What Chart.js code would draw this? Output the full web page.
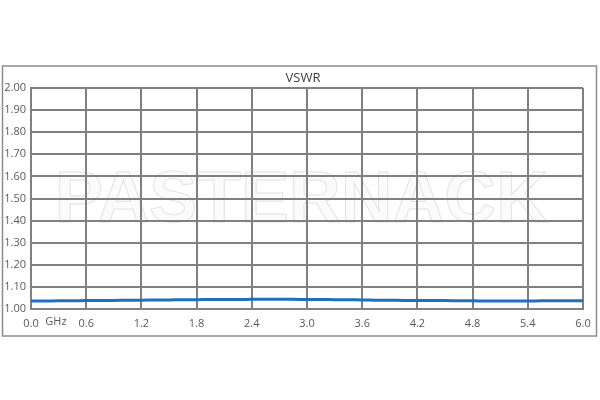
<!DOCTYPE html>
<html>
<head>
<meta charset="utf-8">
<script src="https://cdn.jsdelivr.net/npm/chart.js@4/dist/chart.umd.min.js"></script>
<style>
  html, body { margin: 0; padding: 0; background: #fff; }
  #wrap { width: 600px; height: 400px; }
</style>
</head>
<body>
<div id="wrap"><canvas id="grafico" width="600" height="400"></canvas></div>
<script>
const freqGHz = [0, 0.15, 0.3, 0.45, 0.6, 0.75, 0.9, 1.05, 1.2, 1.35, 1.5, 1.65, 1.8, 1.95, 2.1,
    2.25, 2.4, 2.55, 2.7, 2.85, 3.0, 3.15, 3.3, 3.45, 3.6, 3.75, 3.9, 4.05, 4.2, 4.35, 4.5,
    4.65, 4.8, 4.95, 5.1, 5.25, 5.4, 5.55, 5.7, 5.85, 6.0];
const vswr = [1.036, 1.036, 1.037, 1.037, 1.038, 1.039, 1.039, 1.040, 1.040, 1.041, 1.041,
    1.042, 1.042, 1.043, 1.043, 1.043, 1.044, 1.044, 1.044, 1.044, 1.043, 1.043, 1.042,
    1.042, 1.041, 1.040, 1.040, 1.039, 1.039, 1.038, 1.038, 1.037, 1.037, 1.036, 1.036,
    1.036, 1.036, 1.037, 1.037, 1.037, 1.037];
const xTicks = [0, 0.6, 1.2, 1.8, 2.4, 3.0, 3.6, 4.2, 4.8, 5.4, 6.0];
const yTicks = [1.0, 1.1, 1.2, 1.3, 1.4, 1.5, 1.6, 1.7, 1.8, 1.9, 2.0];

const textColor = "#595959";
const gridColor = "#808080";

const decor = {
    id: "decor",
    beforeDraw(chart) {
        const ctx = chart.ctx;
        ctx.save();
        ctx.fillStyle = "#fff";
        ctx.fillRect(0, 0, 600, 400);
        // outer frame
        ctx.strokeStyle = "#8c8c8c";
        ctx.lineWidth = 1.5;
        ctx.strokeRect(2.5, 66, 594, 270);
        // title
        ctx.fillStyle = "#404040";
        ctx.font = "13px 'Open Sans', 'DejaVu Sans', sans-serif";
        ctx.textAlign = "center";
        ctx.textBaseline = "middle";
        ctx.fillText("VSWR", 303, 78);
        // watermark
        ctx.font = "bold 72px 'Liberation Sans', Arial, sans-serif";
        ctx.textAlign = "left";
        ctx.textBaseline = "alphabetic";
        ctx.fillStyle = "rgba(248,248,248,0.6)";
        ctx.fillText("PASTERNACK", 55, 222, 493);
        ctx.strokeStyle = "#e3e3e3";
        ctx.lineWidth = 1;
        ctx.strokeText("PASTERNACK", 55, 222, 493);
        // unit label
        ctx.fillStyle = textColor;
        ctx.font = "11px 'Open Sans', 'DejaVu Sans', sans-serif";
        ctx.textAlign = "center";
        ctx.textBaseline = "middle";
        ctx.fillText("GHz", 56, 322);
        ctx.restore();
    }
};

new Chart(document.getElementById("grafico"), {
    type: "line",
    data: {
        datasets: [{
            label: "VSWR",
            data: freqGHz.map((f, i) => ({ x: f, y: vswr[i] })),
            borderColor: "#1f6fbd",
            borderWidth: 3,
            pointRadius: 0,
            tension: 0.3,
            fill: false
        }]
    },
    options: {
        responsive: false,
        animation: false,
        layout: { padding: { top: 88, right: 17, bottom: 66, left: 0 } },
        plugins: { legend: { display: false }, title: { display: false }, tooltip: { enabled: false } },
        scales: {
            x: {
                type: "linear",
                min: 0,
                max: 6,
                afterBuildTicks: axis => { axis.ticks = xTicks.map(v => ({ value: v })); },
                afterFit: axis => { axis.height = 25; },
                grid: { color: gridColor, lineWidth: 2, drawTicks: false },
                border: { color: gridColor, width: 2 },
                ticks: {
                    color: textColor,
                    padding: 8,
                    font: { size: 11, family: "'Open Sans', 'DejaVu Sans', sans-serif" },
                    maxRotation: 0,
                    callback: v => Number(v).toFixed(1)
                }
            },
            y: {
                min: 1,
                max: 2,
                afterBuildTicks: axis => { axis.ticks = yTicks.map(v => ({ value: v })); },
                afterFit: axis => { axis.width = 31; },
                grid: { color: gridColor, lineWidth: 2, drawTicks: false },
                border: { color: gridColor, width: 2 },
                ticks: {
                    color: textColor,
                    padding: 5,
                    font: { size: 11, family: "'Open Sans', 'DejaVu Sans', sans-serif" },
                    callback: v => Number(v).toFixed(2)
                }
            }
        }
    },
    plugins: [decor]
});
</script>
</body>
</html>
